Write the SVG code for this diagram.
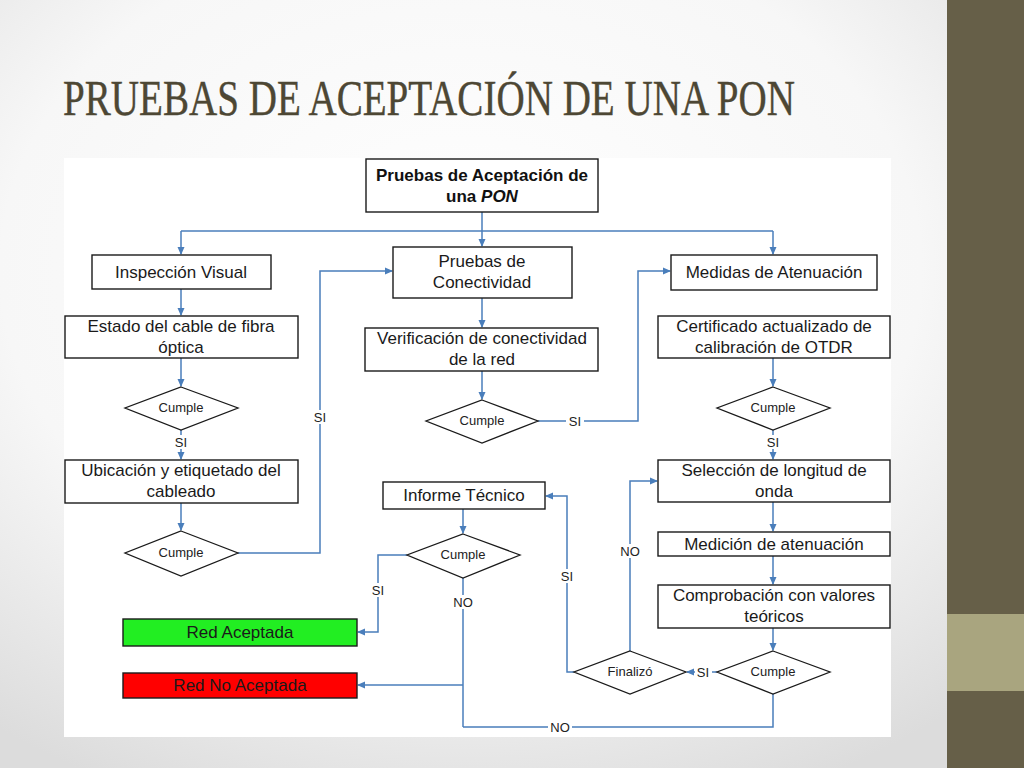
<svg xmlns="http://www.w3.org/2000/svg" width="1024" height="768" viewBox="0 0 1024 768">
<defs>
<radialGradient id="bg" cx="0.45" cy="0.35" r="0.75">
<stop offset="0" stop-color="#ffffff"/>
<stop offset="0.6" stop-color="#f7f7f7"/>
<stop offset="1" stop-color="#dcdcdc"/>
</radialGradient>
<marker id="ah" markerWidth="8" markerHeight="8" refX="7" refY="4" orient="auto" markerUnits="userSpaceOnUse">
<path d="M0,0.5 L8,4 L0,7.5 Z" fill="#4a7ebb"/>
</marker>
<style>
.box{fill:#fff;stroke:#1a1a1a;stroke-width:1.4}
.dia{fill:#fff;stroke:#1a1a1a;stroke-width:1.3}
.t{font-family:"Liberation Sans",Arial,sans-serif;font-size:17px;fill:#1a1a1a;text-anchor:middle}
.tb{font-family:"Liberation Sans",Arial,sans-serif;font-size:17px;font-weight:bold;fill:#111;text-anchor:middle}
.ts{font-family:"Liberation Sans",Arial,sans-serif;font-size:13px;fill:#222;text-anchor:middle}
.lbl{font-family:"Liberation Sans",Arial,sans-serif;font-size:13px;fill:#222;text-anchor:middle}
.c{fill:none;stroke:#4a7ebb;stroke-width:1.5}
.a{marker-end:url(#ah)}
.lb{fill:#fff}
</style>
</defs>
<rect x="0" y="0" width="1024" height="768" fill="url(#bg)"/>
<rect x="947" y="0" width="77" height="768" fill="#665f48"/>
<rect x="947" y="614" width="77" height="77" fill="#a9a57f"/>
<text x="63" y="115" font-family="'Liberation Serif','DejaVu Serif',serif" font-size="50" fill="#4d4734" stroke="#4d4734" stroke-width="0.4" textLength="732" lengthAdjust="spacingAndGlyphs">PRUEBAS DE ACEPTACIÓN DE UNA PON</text>
<rect x="64" y="158" width="827" height="579" fill="#ffffff"/>

<g id="connectors">
<path class="c a" d="M482,212 V246"/>
<path class="c" d="M181,231 H773"/>
<path class="c a" d="M181,231 V254"/>
<path class="c a" d="M773,231 V254"/>
<path class="c a" d="M181,289 V315"/>
<path class="c a" d="M181,358 V386"/>
<path class="c a" d="M181,430 V459"/>
<path class="c a" d="M181,503 V530"/>
<path class="c a" d="M238,553 H320 V271 H392"/>
<path class="c a" d="M482,298 V327"/>
<path class="c a" d="M482,371 V399"/>
<path class="c a" d="M538,421 H638 V271 H670"/>
<path class="c a" d="M773,358 V386"/>
<path class="c a" d="M773,430 V459"/>
<path class="c a" d="M773,502 V531"/>
<path class="c a" d="M773,556 V584"/>
<path class="c a" d="M773,628 V650"/>
<path class="c a" d="M717,672 H687"/>
<path class="c a" d="M630,651 V481 H657"/>
<path class="c a" d="M574,672 H567 V496 H546"/>
<path class="c a" d="M463,509 V533"/>
<path class="c a" d="M407,555 H378 V632 H358"/>
<path class="c" d="M463,578 V727"/>
<path class="c a" d="M463,685 H358"/>
<path class="c" d="M773,694 V727 H463"/>
<rect class="lb" x="172" y="435" width="18" height="14"/>
<text class="lbl" x="181" y="447">SI</text>
<rect class="lb" x="311" y="410" width="18" height="14"/>
<text class="lbl" x="320" y="422">SI</text>
<rect class="lb" x="566" y="414" width="18" height="14"/>
<text class="lbl" x="575" y="426">SI</text>
<rect class="lb" x="764" y="435" width="18" height="14"/>
<text class="lbl" x="773" y="447">SI</text>
<rect class="lb" x="695" y="665" width="17" height="14"/>
<text class="lbl" x="703" y="677">SI</text>
<rect class="lb" x="619" y="544" width="22" height="14"/>
<text class="lbl" x="630" y="556">NO</text>
<rect class="lb" x="558" y="569" width="18" height="14"/>
<text class="lbl" x="567" y="581">SI</text>
<rect class="lb" x="369" y="583" width="18" height="14"/>
<text class="lbl" x="378" y="595">SI</text>
<rect class="lb" x="452" y="595" width="22" height="14"/>
<text class="lbl" x="463" y="607">NO</text>
<rect class="lb" x="548" y="720" width="24" height="14"/>
<text class="lbl" x="560" y="732">NO</text>
</g>

<g id="n-top">
<rect class="box" x="366" y="159" width="232" height="53"/>
<text class="tb" x="482" y="181">Pruebas de Aceptación de</text>
<text class="tb" x="482" y="202">una <tspan font-style="italic">PON</tspan></text>
</g>
<g id="n-inspeccion">
<rect class="box" x="92" y="255" width="179" height="34"/>
<text class="t" x="181" y="278">Inspección Visual</text>
</g>
<g id="n-pruebas-con">
<rect class="box" x="393" y="247" width="179" height="51"/>
<text class="t" x="482" y="267">Pruebas de</text>
<text class="t" x="482" y="288">Conectividad</text>
</g>
<g id="n-medidas">
<rect class="box" x="671" y="255" width="206" height="35"/>
<text class="t" x="774" y="278">Medidas de Atenuación</text>
</g>
<g id="n-estado">
<rect class="box" x="65" y="316" width="233" height="42"/>
<text class="t" x="181" y="332">Estado del cable de fibra</text>
<text class="t" x="181" y="353">óptica</text>
</g>
<g id="n-verificacion">
<rect class="box" x="365" y="328" width="233" height="43"/>
<text class="t" x="482" y="344">Verificación de conectividad</text>
<text class="t" x="482" y="365">de la red</text>
</g>
<g id="n-certificado">
<rect class="box" x="658" y="316" width="232" height="42"/>
<text class="t" x="774" y="332">Certificado actualizado de</text>
<text class="t" x="774" y="353">calibración de OTDR</text>
</g>
<g id="d-cumple1">
<polygon class="dia" points="181,387 238,408 181,430 125,408"/>
<text class="ts" x="181" y="412">Cumple</text>
</g>
<g id="d-cumple-mid">
<polygon class="dia" points="482,400 538,421 482,443 426,421"/>
<text class="ts" x="482" y="425">Cumple</text>
</g>
<g id="d-cumple-r1">
<polygon class="dia" points="773,387 830,408 773,430 717,408"/>
<text class="ts" x="773" y="412">Cumple</text>
</g>
<g id="n-ubicacion">
<rect class="box" x="65" y="460" width="233" height="43"/>
<text class="t" x="181" y="476">Ubicación y etiquetado del</text>
<text class="t" x="181" y="497">cableado</text>
</g>
<g id="d-cumple2">
<polygon class="dia" points="181,531 238,553 181,576 125,553"/>
<text class="ts" x="181" y="557">Cumple</text>
</g>
<g id="n-seleccion">
<rect class="box" x="658" y="460" width="232" height="42"/>
<text class="t" x="774" y="476">Selección de longitud de</text>
<text class="t" x="774" y="497">onda</text>
</g>
<g id="n-informe">
<rect class="box" x="383" y="482" width="162" height="27"/>
<text class="t" x="464" y="501">Informe Técnico</text>
</g>
<g id="d-cumple-inf">
<polygon class="dia" points="463,534 520,555 463,578 407,555"/>
<text class="ts" x="463" y="559">Cumple</text>
</g>
<g id="n-medicion">
<rect class="box" x="658" y="532" width="232" height="24"/>
<text class="t" x="774" y="550">Medición de atenuación</text>
</g>
<g id="n-comprobacion">
<rect class="box" x="658" y="585" width="232" height="43"/>
<text class="t" x="774" y="601">Comprobación con valores</text>
<text class="t" x="774" y="622">teóricos</text>
</g>
<g id="d-cumple-r2">
<polygon class="dia" points="773,651 830,672 773,694 717,672"/>
<text class="ts" x="773" y="676">Cumple</text>
</g>
<g id="d-finalizo">
<polygon class="dia" points="630,651 686,672 630,694 574,672"/>
<text class="ts" x="630" y="676">Finalizó</text>
</g>
<g id="n-aceptada">
<rect x="123" y="619" width="234" height="27" fill="#22ee22" stroke="#1a1a1a" stroke-width="1.4"/>
<text class="t" x="240" y="638">Red Aceptada</text>
</g>
<g id="n-no-aceptada">
<rect x="123" y="673" width="234" height="25" fill="#ff0000" stroke="#1a1a1a" stroke-width="1.4"/>
<text class="t" x="240" y="691">Red No Aceptada</text>
</g>
</svg>
